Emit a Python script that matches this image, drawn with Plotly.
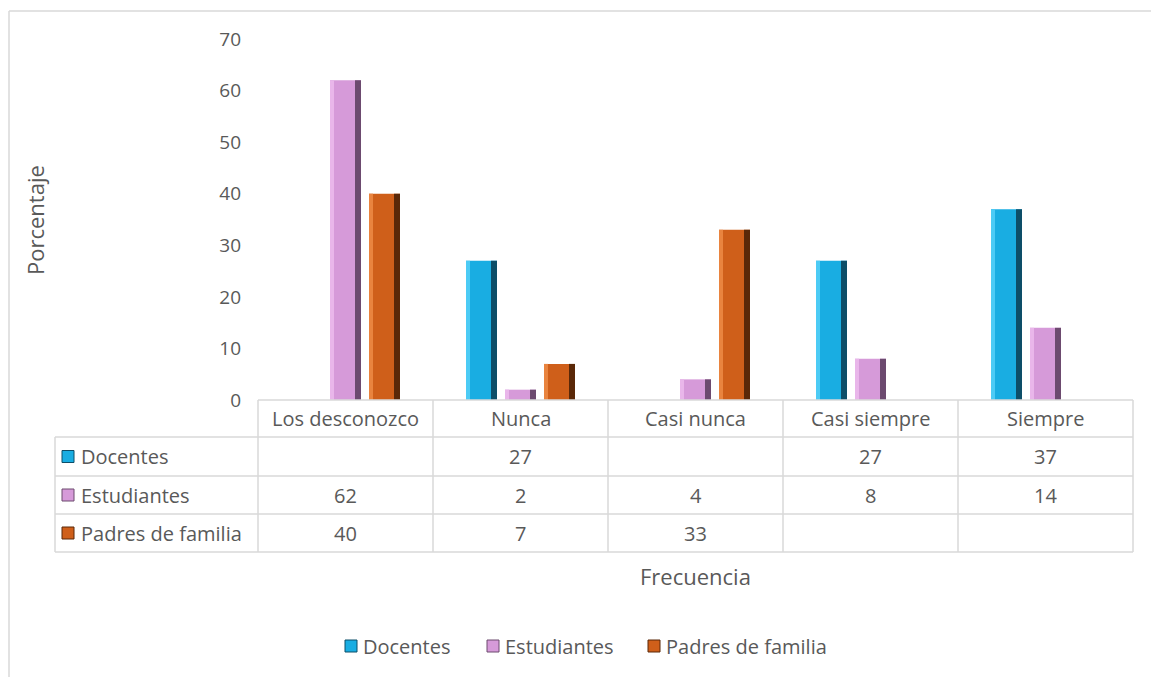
import plotly.graph_objects as go

# ---------------- data ----------------
categories = ["Los desconozco", "Nunca", "Casi nunca", "Casi siempre", "Siempre"]
series_names = ["Docentes", "Estudiantes", "Padres de familia"]
docentes = [None, 27, None, 27, 37]
estudiantes = [62, 2, 4, 8, 14]
padres = [40, 7, 33, None, None]
y_ticks = [0, 10, 20, 30, 40, 50, 60, 70]
y_title = "Porcentaje"
x_title = "Frecuencia"

series_values = [docentes, estudiantes, padres]

# ---------------- style ----------------
main_col = ["#19ADE2", "#D69AD9", "#CF5F1A"]
dark_col = ["#0D4E68", "#6C4A6F", "#5A2808"]
light_col = ["#4CCBF5", "#E9B6EA", "#E9843F"]
txt_col = "#595959"
grid_col = "#D9D9D9"
FONT = "Open Sans"
FS_TAB = 20
FS_TICK = 19
FS_TITLE = 22

W, H = 1151, 677
PX0, PX1, PY0, PY1 = 258, 1133, 39, 400  # plot area in px


def xp(px):
    return (px - PX0) / (PX1 - PX0)


def yp(py):
    return (PY1 - py) / (PY1 - PY0)


ncat = len(categories)
colw = (PX1 - PX0) / ncat
bw = 31 / colw       # bar width in category units
gap = 8 / colw
group = 3 * bw + 2 * gap
offsets = [-group / 2 + i * (bw + gap) for i in range(3)]
sw_dark = 6 / colw
sw_light = 4 / colw

fig = go.Figure()
for i, (name, vals) in enumerate(zip(series_names, series_values)):
    fig.add_trace(go.Bar(
        x=categories, y=vals, name=name, offset=offsets[i], width=bw,
        marker=dict(color=main_col[i], line=dict(width=0)),
        showlegend=False, hoverinfo="x+y+name",
    ))
    fig.add_trace(go.Bar(
        x=categories, y=vals, offset=offsets[i], width=sw_light,
        marker=dict(color=light_col[i], line=dict(width=0)),
        showlegend=False, hoverinfo="skip",
    ))
    fig.add_trace(go.Bar(
        x=categories, y=vals, offset=offsets[i] + bw - sw_dark, width=sw_dark,
        marker=dict(color=dark_col[i], line=dict(width=0)),
        showlegend=False, hoverinfo="skip",
    ))

shapes = []
annotations = []

# outer chart frame
shapes.append(dict(type="line", xref="paper", yref="paper",
                   x0=xp(9), x1=xp(W + 5), y0=yp(11), y1=yp(11),
                   line=dict(color=grid_col, width=1.5)))
shapes.append(dict(type="line", xref="paper", yref="paper",
                   x0=xp(9), x1=xp(9), y0=yp(11), y1=yp(H + 5),
                   line=dict(color=grid_col, width=1.5)))

# data table
row_lines = [400, 437, 476, 514, 552]
tab_left = 55
for k, ry in enumerate(row_lines):
    x_start = PX0 if k == 0 else tab_left
    shapes.append(dict(type="line", xref="paper", yref="paper",
                       x0=xp(x_start), x1=xp(PX1), y0=yp(ry), y1=yp(ry),
                       line=dict(color=grid_col, width=1.5)))
for c in range(ncat + 1):
    cx = PX0 + c * colw
    shapes.append(dict(type="line", xref="paper", yref="paper",
                       x0=xp(cx), x1=xp(cx), y0=yp(row_lines[0]), y1=yp(row_lines[-1]),
                       line=dict(color=grid_col, width=1.5)))
shapes.append(dict(type="line", xref="paper", yref="paper",
                   x0=xp(tab_left), x1=xp(tab_left), y0=yp(row_lines[1]), y1=yp(row_lines[-1]),
                   line=dict(color=grid_col, width=1.5)))

# header labels
for c, cat in enumerate(categories):
    annotations.append(dict(
        xref="paper", yref="paper", x=xp(PX0 + (c + 0.5) * colw),
        y=yp((row_lines[0] + row_lines[1]) / 2), text=cat, showarrow=False,
        xanchor="center", yanchor="middle", font=dict(family=FONT, size=FS_TAB, color=txt_col)))


def key_square(cx, cy, i):
    shapes.append(dict(type="rect", xref="paper", yref="paper",
                       x0=xp(cx - 6), x1=xp(cx + 6), y0=yp(cy - 6), y1=yp(cy + 6),
                       fillcolor=main_col[i], line=dict(color=dark_col[i], width=1)))


# rows
for r, (name, vals) in enumerate(zip(series_names, series_values)):
    cy = (row_lines[r + 1] + row_lines[r + 2]) / 2
    key_square(68, cy, r)
    annotations.append(dict(
        xref="paper", yref="paper", x=xp(79), y=yp(cy), text=name, showarrow=False,
        xanchor="left", yanchor="middle", font=dict(family=FONT, size=FS_TAB, color=txt_col)))
    for c, v in enumerate(vals):
        if v is None:
            continue
        annotations.append(dict(
            xref="paper", yref="paper", x=xp(PX0 + (c + 0.5) * colw), y=yp(cy),
            text=str(v), showarrow=False, xanchor="center", yanchor="middle",
            font=dict(family=FONT, size=FS_TAB, color=txt_col)))

# bottom legend (drawn as keys + labels)
legend_key_x = [351, 493, 654]
legend_y = 646
for i, name in enumerate(series_names):
    key_square(legend_key_x[i], legend_y, i)
    annotations.append(dict(
        xref="paper", yref="paper", x=xp(legend_key_x[i] + 10), y=yp(legend_y), text=name,
        showarrow=False, xanchor="left", yanchor="middle",
        font=dict(family=FONT, size=FS_TAB, color=txt_col)))

# axis titles
annotations.append(dict(
    xref="paper", yref="paper", x=xp(35), y=yp(220), text=y_title, showarrow=False,
    textangle=-90, xanchor="center", yanchor="middle",
    font=dict(family=FONT, size=FS_TITLE, color=txt_col)))
annotations.append(dict(
    xref="paper", yref="paper", x=0.5, y=yp(576), text=x_title, showarrow=False,
    xanchor="center", yanchor="middle", font=dict(family=FONT, size=FS_TITLE, color=txt_col)))

fig.update_layout(
    width=W, height=H, autosize=False,
    margin=dict(l=PX0, r=W - PX1, t=PY0, b=H - PY1, autoexpand=False),
    paper_bgcolor="white", plot_bgcolor="white",
    barmode="overlay",
    font=dict(family=FONT, size=FS_TAB, color=txt_col),
    xaxis=dict(showticklabels=False, showgrid=False, zeroline=False, showline=False,
               ticks="", range=[-0.5, ncat - 0.5], fixedrange=True),
    yaxis=dict(range=[0, 70], tickvals=y_ticks, showgrid=False, zeroline=False,
               showline=False, ticks="", ticklabelstandoff=16,
               tickfont=dict(family=FONT, size=FS_TICK, color=txt_col), fixedrange=True),
    shapes=shapes, annotations=annotations,
    showlegend=False,
)

fig.write_html("out.html", config={"displayModeBar": False},
               post_script="document.body.style.margin='0';")
